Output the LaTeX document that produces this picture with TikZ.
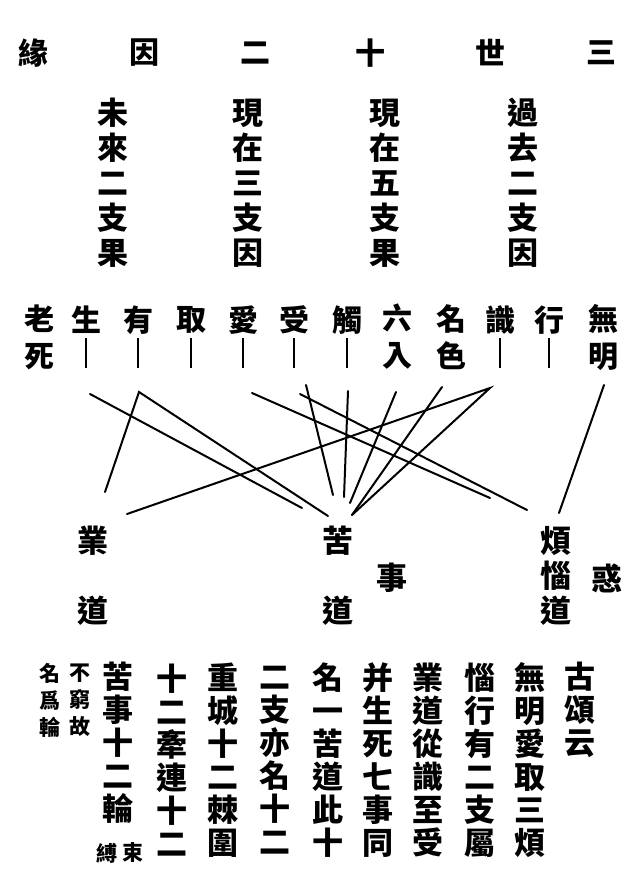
\documentclass[tikz,border=0pt]{standalone}
\usepackage{fontspec}
\newfontfamily\cjk{Noto Sans CJK TC}
\newcommand\linkbar{\rule{2pt}{30pt}}

\begin{document}
\begin{tikzpicture}[x=1pt,y=-1pt,
  hanzi/.style={inner sep=0pt, align=center, font=\cjk\bfseries\fontsize{31}{35}\selectfont},
  link/.style={hanzi, font=\cjk\bfseries\fontsize{30}{37}\selectfont},
  verse/.style={hanzi, font=\cjk\bfseries\fontsize{31}{33}\selectfont},
  note/.style={hanzi, font=\cjk\bfseries\fontsize{21}{27}\selectfont},
  stroke/.style={line width=2pt, line cap=round}]
\useasboundingbox (0,0) rectangle (642,885);
% title, right to left
\node[hanzi, font=\cjk\bfseries\fontsize{30}{30}\selectfont] (t1) at (601,53) {三};
\node[hanzi, font=\cjk\bfseries\fontsize{30}{30}\selectfont] (t2) at (490,53) {世};
\node[hanzi, font=\cjk\bfseries\fontsize{30}{30}\selectfont] (t3) at (370,53) {十};
\node[hanzi, font=\cjk\bfseries\fontsize{30}{30}\selectfont] (t4) at (255,53) {二};
\node[hanzi, font=\cjk\bfseries\fontsize{30}{30}\selectfont] (t5) at (144,53) {因};
\node[hanzi, font=\cjk\bfseries\fontsize{30}{30}\selectfont] (t6) at (33,53) {緣};
%
\node[hanzi] (past) at (523,183) {過\\去\\二\\支\\因};
\node[hanzi] (nowfruit) at (385,183) {現\\在\\五\\支\\果};
\node[hanzi] (nowcause) at (248,183) {現\\在\\三\\支\\因};
\node[hanzi] (future) at (113,183) {未\\來\\二\\支\\果};
%
\node[link] (wuming) at (603,337) {無\\明};
\node[link] (xing) at (549,337) {行\\\linkbar};
\node[link] (shi) at (500,337) {識\\\linkbar};
\node[link] (mingse) at (451,337) {名\\色};
\node[link] (liuru) at (397,337) {六\\入};
\node[link] (chu) at (347,337) {觸\\\linkbar};
\node[link] (shou) at (294,337) {受\\\linkbar};
\node[link] (ai) at (243,337) {愛\\\linkbar};
\node[link] (qu) at (191,337) {取\\\linkbar};
\node[link] (you) at (138,337) {有\\\linkbar};
\node[link] (sheng) at (86,337) {生\\\linkbar};
\node[link] (laosi) at (39,337) {老\\死};
%
\node[hanzi] (yedao) at (93,576) {業\\[35pt]道};
\node[hanzi] (kudao) at (338,576) {苦\\[35pt]道};
\node[hanzi] (shidao) at (392,578) {事};
\node[hanzi] (fannao) at (556,576) {煩\\惱\\道};
\node[hanzi] (huo) at (607,578) {惑};
%
\coordinate (a-sheng) at (90,394);
\coordinate (a-you) at (139,392);
\coordinate (a-ai) at (252,393);
\coordinate (a-shou) at (300,394);
\coordinate (a-shou2) at (306,385);
\coordinate (a-chu) at (348,391);
\coordinate (a-liu) at (396,392);
\coordinate (a-ming) at (442,387);
\coordinate (a-shi) at (490,388);
\coordinate (a-wu) at (604,385);
\coordinate (b-ye1) at (105,492);
\coordinate (b-ye2) at (127,514);
\coordinate (b-ku1) at (302,508);
\coordinate (b-ku2) at (328,516);
\coordinate (b-ku3) at (333,495);
\coordinate (b-ku4) at (344,497);
\coordinate (b-ku5) at (350,503);
\coordinate (b-ku6) at (352,515);
\coordinate (b-fan1) at (490,498);
\coordinate (b-fan2) at (527,510);
\coordinate (b-fan3) at (559,513);
\draw[stroke] (a-sheng)--(b-ku1);
\draw[stroke] (b-ye1)--(a-you)--(b-ku2);
\draw[stroke] (b-ye2)--(a-shi)--(b-ku6);
\draw[stroke] (a-ming)--(b-ku6);
\draw[stroke] (a-liu)--(b-ku5);
\draw[stroke] (a-chu)--(b-ku4);
\draw[stroke] (a-shou2)--(b-ku3);
\draw[stroke] (a-ai)--(b-fan1);
\draw[stroke] (a-shou)--(b-fan2);
\draw[stroke] (a-wu)--(b-fan3);
%
\node[verse] (v1) at (580,710) {古\\頌\\云};
\node[verse] (v2) at (530,760) {無\\明\\愛\\取\\三\\煩};
\node[verse] (v3) at (480,760) {惱\\行\\有\\二\\支\\屬};
\node[verse] (v4) at (428,760) {業\\道\\從\\識\\至\\受};
\node[verse] (v5) at (378,760) {并\\生\\死\\七\\事\\同};
\node[verse] (v6) at (328,760) {名\\一\\苦\\道\\此\\十};
\node[verse] (v7) at (275,760) {二\\支\\亦\\名\\十\\二};
\node[verse] (v8) at (223,760) {重\\城\\十\\二\\棘\\圍};
\node[verse] (v9) at (172,760) {十\\二\\牽\\連\\十\\二};
\node[verse] (v10) at (118,743) {苦\\事\\十\\二\\輪};
\node[note] (n1) at (133,853) {束};
\node[note] (n2) at (107,853) {縛};
\node[note] (n3) at (80,700) {不\\窮\\故};
\node[note] (n4) at (50,700) {名\\爲\\輪};
\end{tikzpicture}
\end{document}
